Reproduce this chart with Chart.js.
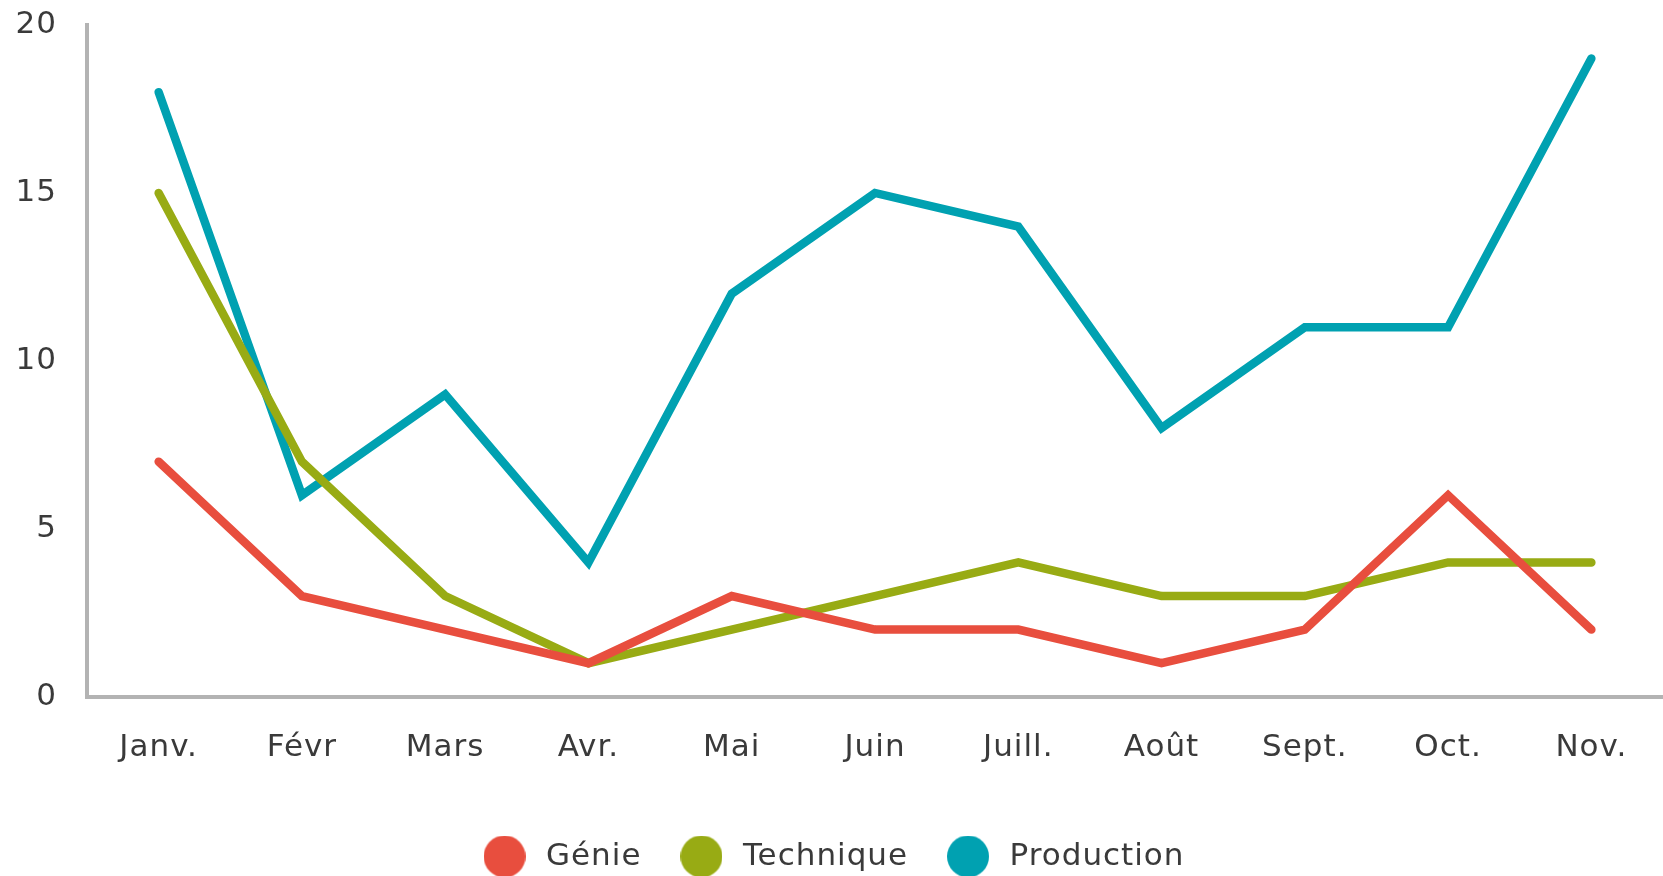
<!DOCTYPE html>
<html>
<head>
<meta charset="utf-8">
<script src="https://cdn.jsdelivr.net/npm/chart.js@4/dist/chart.umd.min.js"></script>
<style>
  html, body { margin: 0; padding: 0; background: #ffffff; overflow: hidden; }
  #wrap { position: relative; width: 1663px; height: 882px; }
</style>
</head>
<body>
<div id="wrap"><canvas id="c"></canvas></div>
<script>
const categories = ['Janv.', 'Févr', 'Mars', 'Avr.', 'Mai', 'Juin', 'Juill.', 'Août', 'Sept.', 'Oct.', 'Nov.'];
const genie = [7, 3, 2, 1, 3, 2, 2, 1, 2, 6, 2];
const technique = [15, 7, 3, 1, 2, 3, 4, 3, 3, 4, 4];
const production = [18, 6, 9, 4, 12, 15, 14, 8, 11, 11, 19];
const yTicks = [0, 5, 10, 15, 20];

const COLORS = { genie: '#e84e3e', technique: '#98ab14', production: '#00a1b1' };
const FONT = '"DejaVu Sans", sans-serif';
const FS = 31;

function dot(color, d) {
  const cv = document.createElement('canvas');
  cv.width = d; cv.height = d;
  const g = cv.getContext('2d');
  g.fillStyle = color;
  g.beginPath();
  g.arc(d / 2, d / 2, d / 2, 0, Math.PI * 2);
  g.fill();
  return cv;
}

function ds(label, data, color) {
  return {
    label, data,
    borderColor: color, backgroundColor: color,
    borderWidth: 8.5, borderCapStyle: 'round', borderJoinStyle: 'miter',
    pointRadius: 0, pointHoverRadius: 0, tension: 0,
    pointStyle: dot(color, 42)
  };
}

const spacing = {
  id: 'spacing',
  beforeUpdate(chart) { chart.ctx.letterSpacing = '1px'; },
  beforeDraw(chart) { chart.ctx.letterSpacing = '1px'; }
};

new Chart(document.getElementById('c'), {
  type: 'line',
  plugins: [spacing],
  data: {
    labels: categories,
    datasets: [
      ds('Génie', genie, COLORS.genie),
      ds('Technique', technique, COLORS.technique),
      ds('Production', production, COLORS.production)
    ]
  },
  options: {
    responsive: true,
    maintainAspectRatio: false,
    animation: false,
    layout: { padding: { top: 0, right: 0, bottom: 0, left: 0 } },
    plugins: {
      tooltip: { enabled: false },
      legend: {
        position: 'bottom',
        labels: {
          usePointStyle: true,
          pointStyleWidth: 52,
          boxHeight: 28,
          padding: 34,
          color: '#3a3a3a',
          font: { family: FONT, size: FS }
        }
      }
    },
    scales: {
      x: {
        offset: true,
        afterFit: (s) => { s.height += 7; },
        grid: { display: false, drawTicks: false },
        border: { display: true, color: '#b3b3b3', width: 4 },
        ticks: { color: '#3a3a3a', font: { family: FONT, size: FS }, padding: 33, maxRotation: 0, autoSkip: false }
      },
      y: {
        min: 0, max: 20,
        afterBuildTicks: (s) => { s.ticks = yTicks.map(v => ({ value: v })); },
        afterFit: (s) => { s.width = 87; s.paddingTop = 25; },
        grid: { display: false, drawTicks: false },
        border: { display: true, color: '#b3b3b3', width: 4 },
        ticks: { color: '#3a3a3a', font: { family: FONT, size: FS }, padding: 30 }
      }
    }
  }
});
</script>
</body>
</html>
